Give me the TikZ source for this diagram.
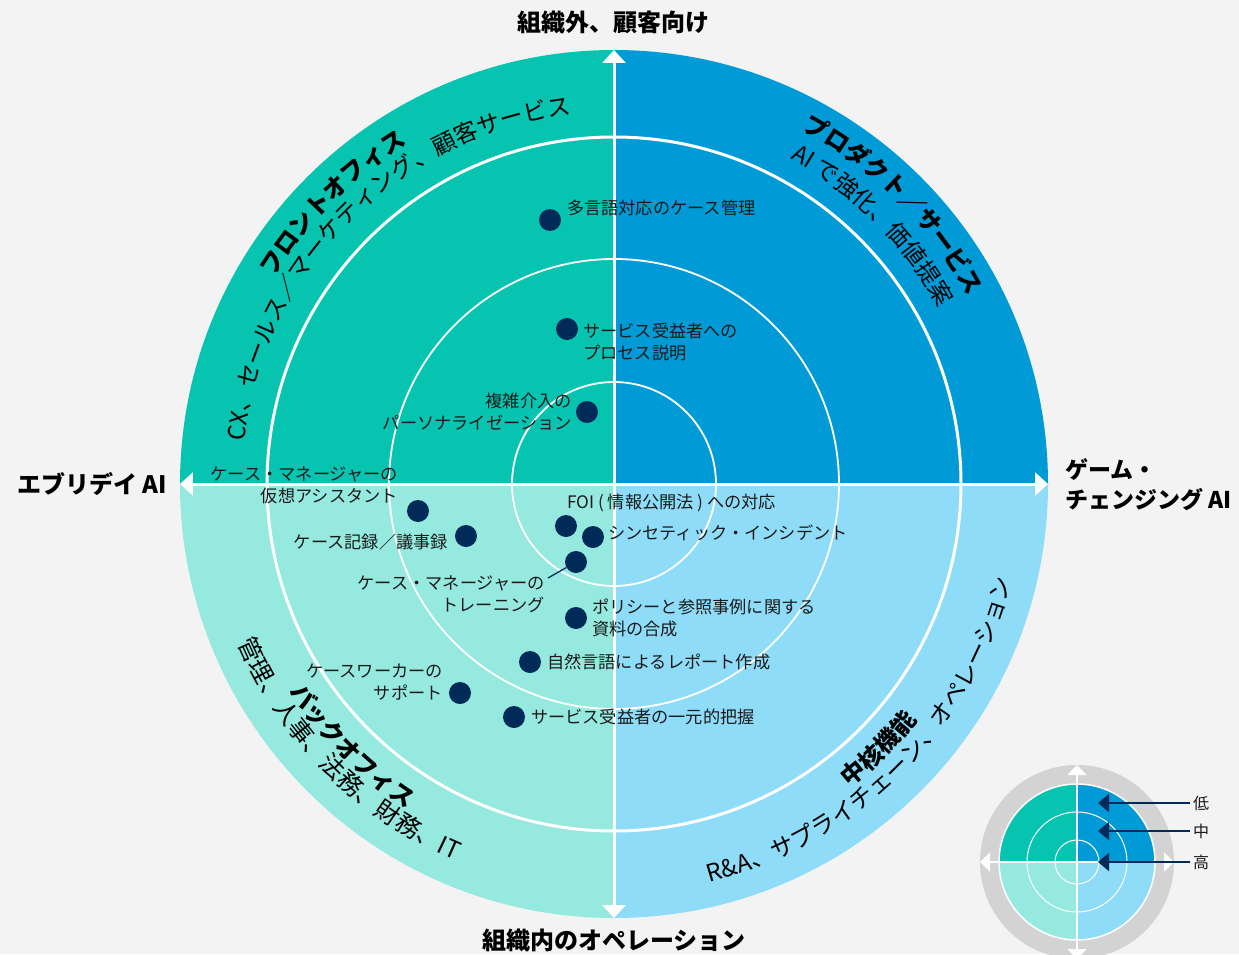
\documentclass[tikz,border=0pt]{standalone}
\usepackage{fontspec}
\setmainfont{Noto Sans CJK JP}
\usetikzlibrary{arrows.meta,decorations.text}
\definecolor{bgc}{HTML}{F3F3F3}
\definecolor{qtl}{HTML}{07C4B1}
\definecolor{qtr}{HTML}{009BD6}
\definecolor{qbl}{HTML}{95E9DE}
\definecolor{qbr}{HTML}{8FDCF8}
\definecolor{navy}{HTML}{002A57}
\definecolor{lgray}{HTML}{D3D3D3}
\definecolor{ink}{HTML}{1A1A1A}
\newcommand\lblfont{\fontsize{17.2pt}{22pt}\selectfont}
\newcommand\cvreg[1]{\fontsize{#1pt}{#1pt}\selectfont}
\newcommand\cvbold{\bfseries\fontsize{24pt}{24pt}\selectfont}
\newcommand\ampRA{R\&A}
\begin{document}
\begin{tikzpicture}[x=1pt,y=1pt,
  dot/.style={circle,fill=navy,minimum size=22pt,inner sep=0pt},
  lbl/.style={inner sep=0pt,text=ink,font=\lblfont},
  title/.style={inner sep=0pt,text=black,font=\bfseries\fontsize{24pt}{31pt}\selectfont},
  axisline/.style={white,line width=3pt,{Triangle[length=13pt,width=23pt]}-{Triangle[length=13pt,width=23pt]}},
  legaxis/.style={white,line width=1.5pt,{Triangle[length=10pt,width=19pt]}-{Triangle[length=10pt,width=19pt]}},
  legarrow/.style={navy,line width=2pt,-{Triangle[length=11pt,width=18pt]},shorten <=3pt},
  curved/.style={decorate,decoration={text along path,text align=center,text color=black,text={#1}}}
]
\fill[bgc] (-614,-470) rectangle (625,484);
\useasboundingbox (-614,-470) rectangle (625,484);

% quadrants
\fill[qtl] (0,0) -- (180:434) arc[start angle=180,end angle=90,radius=434] -- cycle;
\fill[qtr] (0,0) -- (90:434) arc[start angle=90,end angle=0,radius=434] -- cycle;
\fill[qbl] (0,0) -- (180:434) arc[start angle=180,end angle=270,radius=434] -- cycle;
\fill[qbr] (0,0) -- (270:434) arc[start angle=270,end angle=360,radius=434] -- cycle;

% rings
\draw[white,line width=3pt] (0,0) circle[radius=347];
\draw[white,line width=1.8pt] (0,0) circle[radius=225];
\draw[white,line width=1.8pt] (0,0) circle[radius=102];

% axes
\coordinate (top) at (0,434);
\coordinate (bot) at (0,-434);
\coordinate (lft) at (-434,0);
\coordinate (rgt) at (434,0);
\draw[axisline] (bot) -- (top);
\draw[axisline] (lft) -- (rgt);

% curved texts
\path[curved={|\cvbold|フロントオフィス}] (180:398) arc[start angle=180,end angle=90,radius=398];
\path[curved={|\cvreg{23.5}|CX、セールス／マーケティング、顧客サービス}] (180:372) arc[start angle=180,end angle=90,radius=372];
\path[curved={|\cvbold|プロダクト／サービス}] (90:401) arc[start angle=90,end angle=0,radius=401];
\path[curved={|\cvreg{23.5}|AI で強化、価値提案}] (90:370) arc[start angle=90,end angle=0,radius=370];
\path[curved={|\cvreg{24.5}|管理、人事、法務、財務、IT}] (180:408) arc[start angle=180,end angle=270,radius=408];
\path[curved={|\cvbold|バックオフィス}] (180:385) arc[start angle=180,end angle=270,radius=385];
\path[curved={|\cvreg{23.8}|{\ampRA}、サプライチェーン、オペレーション}] (270:409) arc[start angle=270,end angle=360,radius=409];
\path[curved={|\cvbold|中核機能}] (270:384) arc[start angle=270,end angle=360,radius=384];

% titles
\node[title] (t1) at (0,462) {組織外、顧客向け};
\node[title] (t2) at (0,-456) {組織内のオペレーション};
\node[title,anchor=west] (t3) at (-597,0) {エブリデイ AI};
\node[title,anchor=west,align=left,font=\bfseries\fontsize{23pt}{30pt}\selectfont] (t4) at (451,-1) {ゲーム・\\チェンジング AI};

% dots
\node[dot] (d1) at (-64,264) {};
\node[dot] (d2) at (-47,155) {};
\node[dot] (d3) at (-27,72) {};
\node[dot] (d4) at (-196,-27) {};
\node[dot] (d5) at (-148,-52) {};
\node[dot] (d6) at (-48,-42) {};
\node[dot] (d7) at (-21,-53) {};
\node[dot] (d8) at (-38,-78) {};
\node[dot] (d9) at (-38,-134) {};
\node[dot] (d10) at (-84,-178) {};
\node[dot] (d11) at (-154,-209) {};
\node[dot] (d12) at (-100,-233) {};

% labels
\node[lbl,anchor=west] (l1) at (-47,276) {多言語対応のケース管理};
\node[lbl,anchor=west,align=left] (l2) at (-31,142.5) {サービス受益者への\\プロセス説明};
\node[lbl,anchor=east,align=right] (l3) at (-42,72) {複雑介入の\\パーソナライゼーション};
\node[lbl,anchor=east,align=right] (l4) at (-216,-1) {ケース・マネージャーの\\仮想アシスタント};
\node[lbl,anchor=east] (l5) at (-166,-58) {ケース記録／議事録};
\node[lbl,anchor=west] (l6) at (-47,-19) {FOI ( 情報公開法 ) への対応};
\node[lbl,anchor=west] (l7) at (-6,-49) {シンセティック・インシデント};
\node[lbl,anchor=east,align=right] (l8) at (-69,-110) {ケース・マネージャーの\\トレーニング};
\node[lbl,anchor=west,align=left] (l9) at (-22,-134) {ポリシーと参照事例に関する\\資料の合成};
\node[lbl,anchor=west] (l10) at (-67,-178) {自然言語によるレポート作成};
\node[lbl,anchor=east,align=right] (l11) at (-171,-198) {ケースワーカーの\\サポート};
\node[lbl,anchor=west] (l12) at (-83,-233) {サービス受益者の一元的把握};

\coordinate (lead8) at (-66,-94);
\draw[navy,line width=1.3pt] (d8) -- (lead8);

% legend
\begin{scope}[shift={(463,-378)}]
\fill[lgray] (0,0) circle[radius=97];
\fill[qtl] (0,0) -- (180:78) arc[start angle=180,end angle=90,radius=78] -- cycle;
\fill[qtr] (0,0) -- (90:78) arc[start angle=90,end angle=0,radius=78] -- cycle;
\fill[qbl] (0,0) -- (180:78) arc[start angle=180,end angle=270,radius=78] -- cycle;
\fill[qbr] (0,0) -- (270:78) arc[start angle=270,end angle=360,radius=78] -- cycle;
\draw[white,line width=1.5pt] (0,0) circle[radius=78];
\draw[white,line width=1pt] (0,0) circle[radius=50];
\draw[white,line width=1pt] (0,0) circle[radius=22];
\coordinate (ltop) at (0,97);
\coordinate (lbot) at (0,-97);
\coordinate (llft) at (-97,0);
\coordinate (lrgt) at (97,0);
\draw[legaxis] (lbot) -- (ltop);
\draw[legaxis] (llft) -- (lrgt);
\end{scope}

\node[lbl,anchor=west,font=\fontsize{16pt}{16pt}\selectfont] (g1) at (579,-319) {低};
\node[lbl,anchor=west,font=\fontsize{16pt}{16pt}\selectfont] (g2) at (579,-347) {中};
\node[lbl,anchor=west,font=\fontsize{16pt}{16pt}\selectfont] (g3) at (579,-378) {高};
\coordinate (tip1) at (484,-319);
\coordinate (tip2) at (484,-347);
\coordinate (tip3) at (484,-378);
\draw[legarrow] (g1) -- (tip1);
\draw[legarrow] (g2) -- (tip2);
\draw[legarrow] (g3) -- (tip3);
\end{tikzpicture}
\end{document}
